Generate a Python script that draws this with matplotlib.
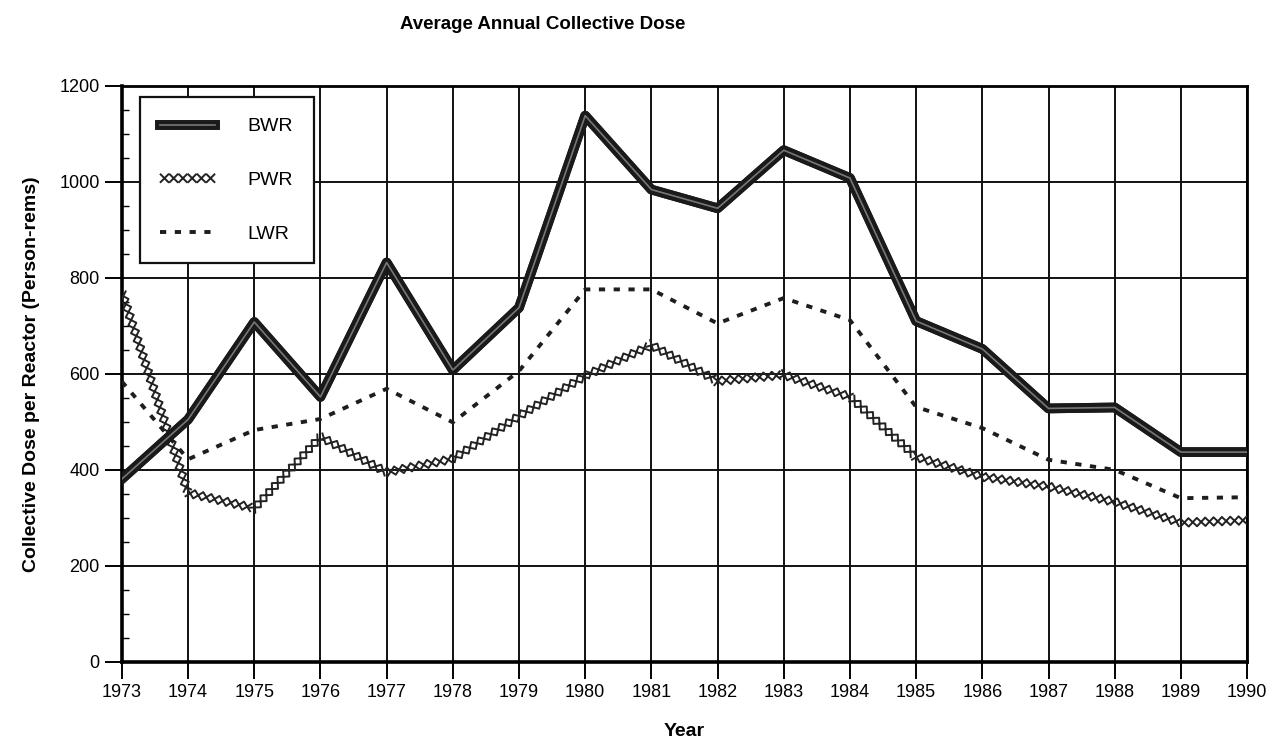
import matplotlib
matplotlib.use("Agg")
import matplotlib.pyplot as plt
import matplotlib.patheffects as pe
from matplotlib.ticker import MultipleLocator

plt.rcParams['font.family'] = ['Liberation Sans Narrow', 'Liberation Sans', 'DejaVu Sans']

years = list(range(1973, 1991))
bwr = [381, 505, 708, 552, 832, 608, 738, 1138, 984, 945, 1066, 1008, 710, 652, 528, 530, 437, 437]
pwr = [770, 352, 320, 469, 395, 423, 512, 596, 660, 585, 598, 552, 427, 386, 365, 333, 290, 295]
lwr = [584, 422, 483, 506, 569, 499, 606, 776, 776, 705, 758, 712, 531, 487, 421, 400, 341, 343]

fig = plt.figure(figsize=(12.83, 7.47), dpi=100)
ax = fig.add_axes([0.095, 0.114, 0.877, 0.771])

# BWR: thick dark band with a lighter core
ax.plot(years, bwr, color='#1a1a1a', lw=7, label='BWR', zorder=4,
        path_effects=[pe.Stroke(linewidth=7, foreground='#1a1a1a'), pe.Normal(),
                      pe.Stroke(linewidth=1.2, foreground='#777777')])

# PWR: chain of small crosses (ticks on both sides of the path)
cross = [pe.TickedStroke(spacing=6, angle=a, length=0.65, linewidth=1.4)
         for a in (45, 135, -45, -135)]
ax.plot(years, pwr, color='#222222', lw=0.6, label='PWR', zorder=3, path_effects=cross)

# LWR: broken line of little squares and bars
ax.plot(years, lwr, color='#1e1e1e', lw=2.8, dashes=(1.6, 2.2), label='LWR', zorder=3)

ax.set_xlim(1973, 1990)
ax.set_ylim(0, 1200)
ax.set_xticks(years)
ax.set_xticklabels([str(y) for y in years])
ax.yaxis.set_major_locator(MultipleLocator(200))
ax.yaxis.set_minor_locator(MultipleLocator(50))
ax.grid(True, which='major', color='#111111', lw=1.4)
ax.set_axisbelow(True)

for side in ['left', 'bottom']:
    ax.spines[side].set_linewidth(2.6)
for side in ['top', 'right']:
    ax.spines[side].set_linewidth(2.0)

ax.tick_params(axis='both', which='major', direction='out', length=12, width=1.4,
               labelsize=13, pad=4)
ax.tick_params(axis='y', which='minor', direction='in', length=5, width=1.0)

ax.set_ylabel('Collective Dose per Reactor (Person-rems)', fontsize=14, fontweight='bold', labelpad=14)
ax.set_xlabel('Year', fontsize=14, fontweight='bold', labelpad=16)
fig.text(0.423, 0.967, 'Average Annual Collective Dose', ha='center', va='center',
         fontsize=13.5, fontweight='bold')

leg = ax.legend(loc='upper left', bbox_to_anchor=(0.016, 0.98), borderaxespad=0, fontsize=14,
                handlelength=2.8, handletextpad=1.7, labelspacing=1.85,
                borderpad=1.05, fancybox=False, edgecolor='#111111', framealpha=1)
leg.get_frame().set_linewidth(1.6)

fig.savefig('out.png', dpi=100)
